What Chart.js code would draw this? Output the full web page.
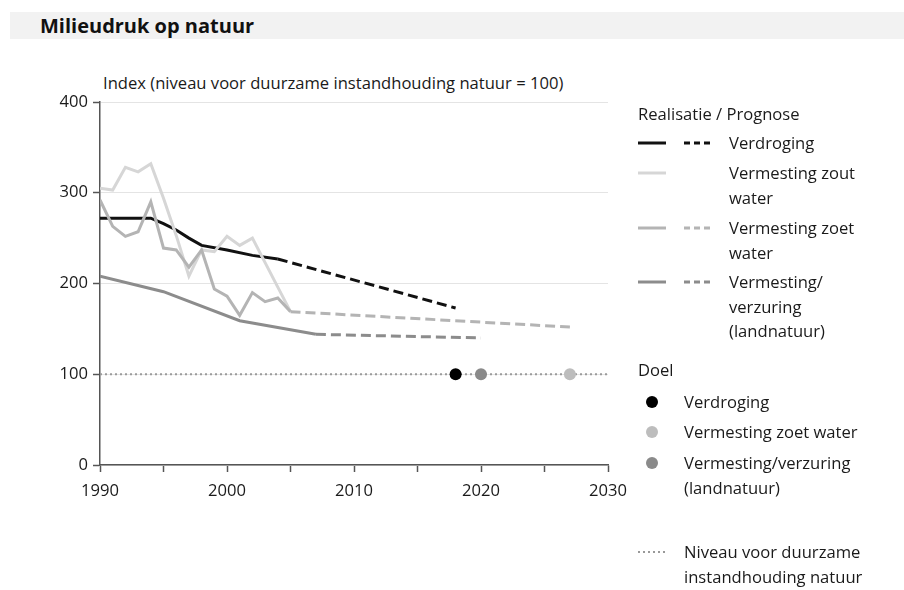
<!DOCTYPE html>
<html>
<head>
<meta charset="utf-8">
<script src="https://cdn.jsdelivr.net/npm/chart.js@4"></script>
<style>
body{margin:0;background:#fff;font-family:"Open Sans",sans-serif;color:#1a1a1a}
#wrap{position:relative;width:904px;height:590px;overflow:hidden}
#band{position:absolute;left:10px;top:12px;width:894px;height:27px;background:#f2f2f2}
#title{position:absolute;left:40px;top:12px;font-weight:bold;font-size:20px;line-height:27px;color:#111}
#ytitle{position:absolute;left:103px;top:72px;font-size:16.6px;line-height:22px}
.leg{position:absolute;font-size:16.6px;line-height:24.5px;white-space:nowrap}
svg{position:absolute}
canvas{position:absolute;left:0;top:0}
</style>
</head>
<body>
<div id="wrap">
  <div id="band"></div>
  <div id="title">Milieudruk op natuur</div>
  <div id="ytitle">Index (niveau voor duurzame instandhouding natuur = 100)</div>
  <canvas id="milieudruk" width="904" height="590"></canvas>

  <div class="leg" style="left:638px;top:102px">Realisatie / Prognose</div>

  <svg style="left:638px;top:136px" width="76" height="14">
    <line x1="0" y1="7" x2="28" y2="7" stroke="#111" stroke-width="3"/>
    <line x1="46" y1="7" x2="76" y2="7" stroke="#111" stroke-width="3" stroke-dasharray="6,4"/>
  </svg>
  <div class="leg" style="left:729px;top:131px">Verdroging</div>

  <svg style="left:638px;top:166px" width="76" height="14">
    <line x1="0" y1="7" x2="28" y2="7" stroke="#d6d6d6" stroke-width="3"/>
  </svg>
  <div class="leg" style="left:729px;top:161px">Vermesting zout<br>water</div>

  <svg style="left:638px;top:221px" width="76" height="14">
    <line x1="0" y1="7" x2="28" y2="7" stroke="#b4b4b4" stroke-width="3"/>
    <line x1="46" y1="7" x2="76" y2="7" stroke="#b4b4b4" stroke-width="3" stroke-dasharray="6,4"/>
  </svg>
  <div class="leg" style="left:729px;top:216px">Vermesting zoet<br>water</div>

  <svg style="left:638px;top:275px" width="76" height="14">
    <line x1="0" y1="7" x2="28" y2="7" stroke="#8c8c8c" stroke-width="3"/>
    <line x1="46" y1="7" x2="76" y2="7" stroke="#8c8c8c" stroke-width="3" stroke-dasharray="6,4"/>
  </svg>
  <div class="leg" style="left:729px;top:270px">Vermesting/<br>verzuring<br>(landnatuur)</div>

  <div class="leg" style="left:638px;top:358px">Doel</div>
  <svg style="left:645px;top:395px" width="14" height="14"><circle cx="7" cy="7" r="6" fill="#000"/></svg>
  <div class="leg" style="left:684px;top:390px">Verdroging</div>
  <svg style="left:645px;top:425px" width="14" height="14"><circle cx="7" cy="7" r="6" fill="#bdbdbd"/></svg>
  <div class="leg" style="left:684px;top:420px">Vermesting zoet water</div>
  <svg style="left:645px;top:456px" width="14" height="14"><circle cx="7" cy="7" r="6" fill="#8a8a8a"/></svg>
  <div class="leg" style="left:684px;top:451px">Vermesting/verzuring<br>(landnatuur)</div>

  <svg style="left:638px;top:545px" width="30" height="14">
    <line x1="0" y1="7" x2="28" y2="7" stroke="#999" stroke-width="2" stroke-dasharray="2,3"/>
  </svg>
  <div class="leg" style="left:684px;top:540px">Niveau voor duurzame<br>instandhouding natuur</div>
</div>

<script>
// realisatie
var verdrogingJaren = [1990, 1994, 1995, 1996, 1997, 1998, 2000, 2002, 2004];
var verdrogingWaarden = [272, 272, 266, 259, 250, 242, 237, 231, 227];
var zoutJaren = [1990, 1991, 1992, 1993, 1994, 1995, 1996, 1997, 1998, 1999, 2000, 2001, 2002, 2003, 2004, 2005];
var zoutWaarden = [305, 303, 328, 323, 332, 294, 253, 208, 237, 235, 252, 242, 250, 223, 196, 169];
var zoetJaren = [1990, 1991, 1992, 1993, 1994, 1995, 1996, 1997, 1998, 1999, 2000, 2001, 2002, 2003, 2004, 2005];
var zoetWaarden = [292, 263, 252, 257, 290, 239, 237, 218, 237, 194, 186, 165, 190, 180, 184, 169];
var landJaren = [1990, 1995, 2001, 2007];
var landWaarden = [208, 191, 159, 144];

// prognose
var verdrogingPrognoseJaren = [2004, 2018];
var verdrogingPrognoseWaarden = [227, 173];
var zoetPrognoseJaren = [2005, 2027];
var zoetPrognoseWaarden = [169, 152];
var landPrognoseJaren = [2007, 2020];
var landPrognoseWaarden = [144, 140];

// doelen
var doelJaren = [2018, 2027, 2020];
var doelWaarden = [100, 100, 100];
var doelKleuren = ["#000000", "#bdbdbd", "#8a8a8a"];

var niveauJaren = [1990, 2030];
var niveauWaarden = [100, 100];

var xTicks = [1990, 2000, 2010, 2020, 2030];
var yTicks = [0, 100, 200, 300, 400];

function punten(jaren, waarden) {
    return jaren.map(function (j, i) { return {x: j, y: waarden[i]}; });
}

function lijn(jaren, waarden, kleur, dash, order) {
    return {
        data: punten(jaren, waarden),
        borderColor: kleur,
        borderWidth: 3,
        borderDash: dash,
        pointRadius: 0,
        fill: false,
        tension: 0,
        order: order
    };
}

var datasets = [
    lijn(niveauJaren, niveauWaarden, "#9a9a9a", [2, 3], 5),
    lijn(verdrogingJaren, verdrogingWaarden, "#111111", [], 9),
    lijn(verdrogingPrognoseJaren, verdrogingPrognoseWaarden, "#111111", [10, 5], 9),
    lijn(zoutJaren, zoutWaarden, "#d6d6d6", [], 4),
    lijn(zoetJaren, zoetWaarden, "#b4b4b4", [], 3),
    lijn(zoetPrognoseJaren, zoetPrognoseWaarden, "#b4b4b4", [10, 5], 3),
    lijn(landJaren, landWaarden, "#8c8c8c", [], 2),
    lijn(landPrognoseJaren, landPrognoseWaarden, "#8c8c8c", [10, 5], 2),
    {
        type: "scatter",
        data: punten(doelJaren, doelWaarden),
        backgroundColor: doelKleuren,
        borderWidth: 0,
        pointRadius: 6,
        order: 0
    }
];
datasets[0].borderWidth = 2;

Chart.defaults.font.family = "'Open Sans', sans-serif";
Chart.defaults.color = "#1a1a1a";

new Chart("milieudruk", {
    type: "line",
    data: { datasets: datasets },
    options: {
        responsive: false,
        animation: false,
        layout: { padding: { top: 102, right: 296, left: 0, bottom: 0 } },
        plugins: { legend: { display: false }, tooltip: { enabled: false } },
        scales: {
            x: {
                type: "linear",
                min: 1990,
                max: 2030,
                afterFit: function (s) { s.height = 125; },
                afterBuildTicks: function (s) {
                    s.ticks = [1990, 1995, 2000, 2005, 2010, 2015, 2020, 2025, 2030].map(function (v) { return {value: v}; });
                },
                ticks: {
                    font: { size: 16.6 },
                    padding: 9,
                    maxRotation: 0,
                    autoSkip: false,
                    callback: function (v) { return xTicks.indexOf(v) >= 0 ? String(v) : ""; }
                },
                grid: { drawOnChartArea: false, tickLength: 7, tickColor: "#555", tickWidth: 1.5 },
                border: { color: "#555", width: 1.5 }
            },
            y: {
                min: 0,
                max: 400,
                afterFit: function (s) { s.width = 100; },
                afterBuildTicks: function (s) {
                    s.ticks = yTicks.map(function (v) { return {value: v}; });
                },
                ticks: { font: { size: 16.6 }, padding: 5 },
                grid: { color: "#e4e4e4", lineWidth: 1, tickLength: 7, tickColor: "#555", tickWidth: 1.5 },
                border: { color: "#555", width: 1.5 }
            }
        }
    }
});
</script>
</body>
</html>
